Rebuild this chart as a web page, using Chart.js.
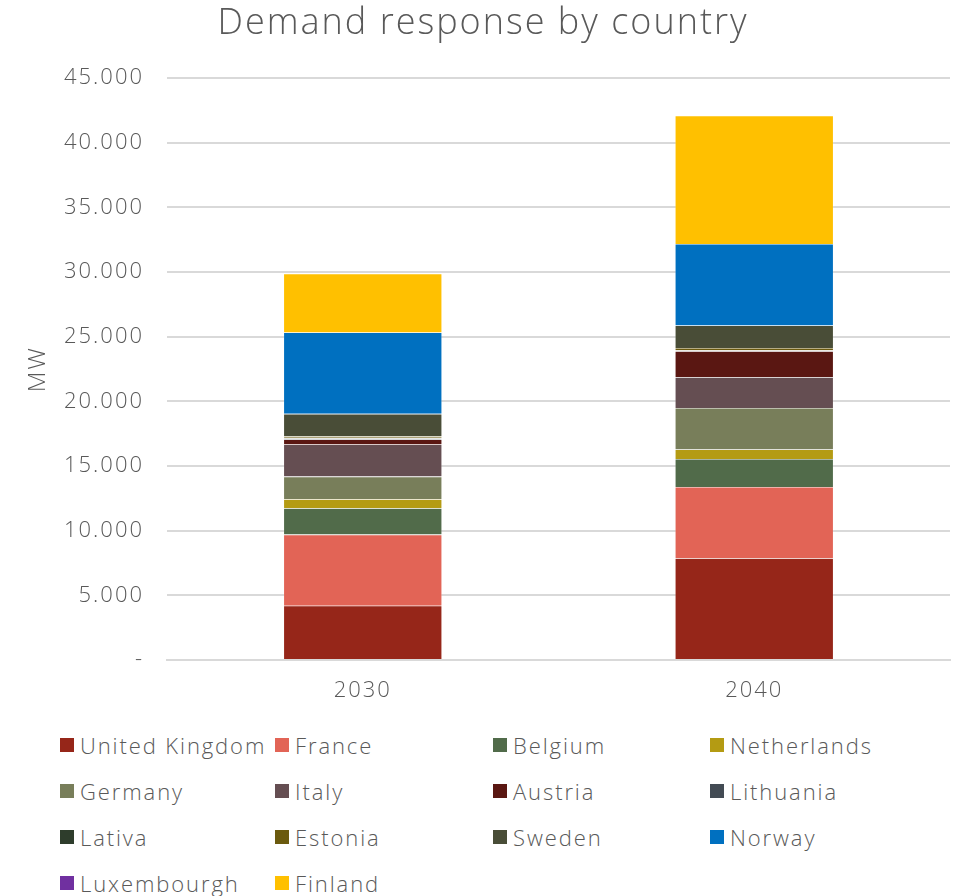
<!DOCTYPE html>
<html>
<head>
<meta charset="utf-8">
<script src="https://cdn.jsdelivr.net/npm/chart.js@4.4.1/dist/chart.umd.min.js"></script>
<style>
  html, body { margin: 0; padding: 0; background: #ffffff; }
  #wrap { position: relative; width: 961px; height: 896px; overflow: hidden; }
  #chart { position: absolute; left: 0; top: 0; }
  #legend {
    position: absolute; left: 60px; top: 730px;
    display: grid; grid-template-columns: 215px 218px 217px 218px;
    grid-auto-rows: 46px;
    font-family: "Open Sans", sans-serif; font-weight: 300; font-size: 22px; color: #595959;
    letter-spacing: 1.9px;
  }
  .item { display: flex; align-items: center; white-space: nowrap; height: 30px; }
  .sw { width: 14px; height: 14px; margin-right: 6px; flex: none; }
</style>
</head>
<body>
<div id="wrap">
  <canvas id="chart" width="961" height="720"></canvas>
  <div id="legend"></div>
</div>
<script>
// Installed demand response capacity (MW) per country
const years = ['2030', '2040'];
const countries = ['United Kingdom', 'France', 'Belgium', 'Netherlands', 'Germany', 'Italy',
  'Austria', 'Lithuania', 'Lativa', 'Estonia', 'Sweden', 'Norway', 'Luxembourgh', 'Finland'];
const unitedKingdom = [4205, 7876];
const france = [5496, 5514];
const belgium = [2038, 2166];
const netherlands = [697, 731];
const germany = [1754, 3207];
const italy = [2477, 2391];
const austria = [387, 1997];
const lithuania = [80, 50];
const latvia = [48, 33];
const estonia = [130, 170];
const sweden = [1728, 1744];
const norway = [6295, 6301];
const luxembourg = [0, 0];
const finland = [4541, 9930];
const yTicks = [0, 5000, 10000, 15000, 20000, 25000, 30000, 35000, 40000, 45000];

const seriesValues = [unitedKingdom, france, belgium, netherlands, germany, italy,
  austria, lithuania, latvia, estonia, sweden, norway, luxembourg, finland];
const colors = ['#962619', '#E26456', '#516B4A', '#B49B13', '#787E5A', '#654E52',
  '#5A1712', '#434B54', '#2E3D2C', '#6B5A0E', '#494D37', '#0070C0', '#7030A0', '#FFC000'];

const textColor = '#595959';
const fontFamily = '"Open Sans", sans-serif';

// Slightly tracked-out canvas text, applied before measuring and drawing
const letterSpacingPlugin = {
  id: 'letterSpacing',
  beforeLayout(chart) { chart.ctx.letterSpacing = '2px'; },
  beforeDraw(chart) { chart.ctx.letterSpacing = '2px'; }
};

const datasets = countries.map((name, i) => ({
  label: name,
  data: seriesValues[i],
  backgroundColor: colors[i],
  borderColor: 'rgba(255,255,255,0.35)',
  borderWidth: 0.6,
  barPercentage: 0.405,
  categoryPercentage: 1.0
}));

const chart = new Chart(document.getElementById('chart'), {
  type: 'bar',
  data: { labels: years, datasets },
  plugins: [letterSpacingPlugin],
  options: {
    responsive: false,
    animation: false,
    layout: { padding: { left: 16, right: 11, top: 0, bottom: 0 } },
    plugins: {
      legend: { display: false },
      tooltip: { enabled: false },
      title: {
        display: true,
        text: 'Demand response by country',
        color: textColor,
        font: { family: fontFamily, size: 36, weight: 300 },
        padding: { top: 2, bottom: 33 }
      }
    },
    scales: {
      x: {
        stacked: true,
        grid: { display: false, drawTicks: false },
        border: { display: true, color: '#d9d9d9', width: 2 },
        ticks: {
          color: textColor, padding: 18,
          font: { family: fontFamily, size: 22, weight: 300 }
        },
        afterFit: (scale) => { scale.height = 60; }
      },
      y: {
        stacked: true,
        min: 0, max: 45000,
        afterBuildTicks: (scale) => { scale.ticks = yTicks.map(v => ({ value: v })); },
        grid: { color: '#d9d9d9', lineWidth: 2, drawTicks: false },
        border: { display: false },
        ticks: {
          color: textColor, padding: 23,
          font: { family: fontFamily, size: 22, weight: 300 },
          callback: (v) => v === 0 ? '-' : Number(v).toLocaleString('de-DE')
        },
        title: {
          display: true, text: 'MW', color: textColor,
          font: { family: fontFamily, size: 24, weight: 300 },
          padding: { top: 8, bottom: 0 }
        },
        afterFit: (scale) => { scale.width = 151; }
      }
    }
  }
});

// Legend laid out as a four-column grid below the plot
const legendEl = document.getElementById('legend');
chart.data.datasets.forEach((ds) => {
  const item = document.createElement('div');
  item.className = 'item';
  const sw = document.createElement('span');
  sw.className = 'sw';
  sw.style.background = ds.backgroundColor;
  const label = document.createElement('span');
  label.textContent = ds.label;
  item.appendChild(sw);
  item.appendChild(label);
  legendEl.appendChild(item);
});
</script>
</body>
</html>
